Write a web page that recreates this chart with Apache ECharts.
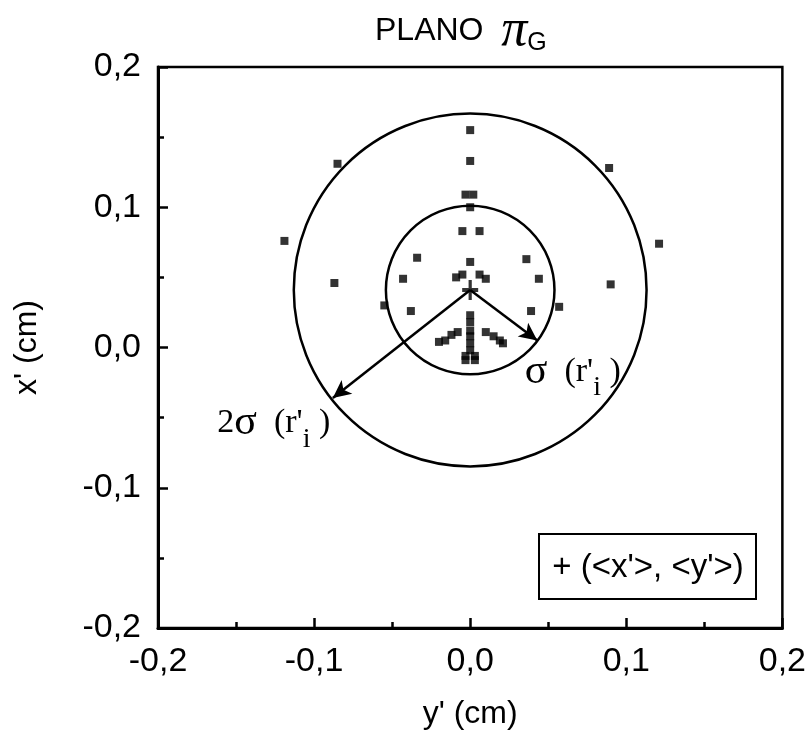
<!DOCTYPE html>
<html>
<head>
<meta charset="utf-8">
<script src="https://cdn.jsdelivr.net/npm/echarts@6/dist/echarts.min.js"></script>
<style>
  html, body { margin: 0; padding: 0; background: #fff; }
  #main { width: 809px; height: 755px; }
</style>
</head>
<body>
<div id="main"></div>
<script>
// y' (cm), x' (cm) of every point
var points = [
    [0.0, 0.155], [0.0, 0.133], [-0.085, 0.131], [0.089, 0.128],
    [-0.003, 0.109], [0.002, 0.109], [0.0, 0.100],
    [-0.005, 0.083], [0.006, 0.083],
    [-0.119, 0.076], [0.121, 0.074],
    [-0.034, 0.064], [0.036, 0.063], [0.0, 0.061],
    [-0.087, 0.046], [-0.043, 0.049], [0.044, 0.049], [0.090, 0.045],
    [-0.009, 0.050], [-0.005, 0.052], [0.006, 0.052], [0.010, 0.049],
    [-0.055, 0.030], [-0.038, 0.026], [0.039, 0.026], [0.057, 0.029],
    [0.0, 0.023], [0.0, 0.018], [0.0, 0.012], [0.0, 0.008], [0.0, 0.003], [0.0, -0.002],
    [-0.003, -0.006], [0.003, -0.006], [-0.003, -0.009], [0.003, -0.009],
    [-0.008, 0.011], [-0.012, 0.009], [-0.016, 0.005], [-0.020, 0.004],
    [0.010, 0.011], [0.015, 0.008], [0.019, 0.005], [0.021, 0.003]
]

// mean (<y'>, <x'>) and the sigma circles around it
var mean = [0.0, 0.041]
var radii = [0.054, 0.113]   // sigma, 2 sigma (cm)
var arrowEnds = [[0.043, 0.005], [-0.088, -0.036]]

var ticks = [-0.2, -0.1, 0.0, 0.1, 0.2]

function fmt(v) {
    return v.toFixed(1).replace('.', ',')
}

var chart = echarts.init(document.getElementById('main'))

var sans = 'Liberation Sans'
var serif = 'Liberation Serif'

function axisCommon(name) {
    return {
        type: 'value',
        min: ticks[0],
        max: ticks[ticks.length - 1],
        interval: 0.1,
        name: name,
        nameLocation: 'middle',
        nameTextStyle: { fontFamily: sans, fontSize: 32, color: '#000' },
        axisLine: { show: true, onZero: false, lineStyle: { color: '#000', width: 3 } },
        axisTick: { show: true, inside: true, length: 10, lineStyle: { color: '#000', width: 2.5 } },
        minorTick: { show: true, splitNumber: 2, length: 6, lineStyle: { color: '#000', width: 2.5 } },
        splitLine: { show: false },
        minorSplitLine: { show: false },
        axisLabel: { fontFamily: sans, fontSize: 34, color: '#000', formatter: fmt }
    }
}

var xAxis = axisCommon("y' (cm)")
xAxis.nameGap = 70
xAxis.axisLabel.margin = 17

var yAxis = axisCommon("x' (cm)")
yAxis.nameGap = 115
yAxis.axisLabel.margin = 17

// subscript token gets top padding so it sits lower on the line
var subRich = {
    g: { fontFamily: serif, fontSize: 42, lineHeight: 42, color: '#000' },
    a: { fontFamily: serif, fontSize: 34, lineHeight: 42, color: '#000' },
    s: { fontFamily: serif, fontSize: 28, padding: [32, 0, 0, 0], color: '#000' }
}

chart.setOption({
    animation: false,
    backgroundColor: '#fff',
    title: {
        text: '{a|PLANO  }{p|π}{g|G}',
        left: 370,
        top: 2,
        textStyle: {
            fontWeight: 'normal',
            rich: {
                a: { fontFamily: sans, fontSize: 32, fontWeight: 'normal', color: '#000', lineHeight: 44 },
                p: { fontFamily: serif, fontSize: 52, fontStyle: 'italic', fontWeight: 'normal', color: '#000', lineHeight: 44 },
                g: { fontFamily: sans, fontSize: 25, fontWeight: 'normal', color: '#000', padding: [24, 0, 0, 0] }
            }
        }
    },
    grid: {
        left: 158, right: 26, top: 67, bottom: 127,
        show: true, borderColor: '#000', borderWidth: 2.5, backgroundColor: 'transparent'
    },
    xAxis: xAxis,
    yAxis: yAxis,
    graphic: [{
        type: 'group',
        left: 538,
        top: 533,
        children: [{
            type: 'rect',
            shape: { x: 0, y: 0, width: 217, height: 65 },
            style: { fill: '#fff', stroke: '#000', lineWidth: 2 }
        }, {
            type: 'text',
            x: 109, y: 34,
            style: {
                text: "+ (<x'>, <y'>)",
                font: '33px "Liberation Sans"',
                fill: '#000',
                align: 'center',
                verticalAlign: 'middle'
            }
        }]
    }],
    series: [{
        name: 'circles',
        type: 'custom',
        silent: true,
        data: radii.map(function(r) { return [mean[0], mean[1], r] }),
        renderItem: function(params, api) {
            var c = api.coord([api.value(0), api.value(1)])
            var r = api.size([api.value(2), 0])[0]
            return {
                type: 'circle',
                shape: { cx: c[0], cy: c[1], r: r },
                style: { fill: 'none', stroke: '#000', lineWidth: 2.5 }
            }
        }
    }, {
        name: 'points',
        type: 'scatter',
        symbol: 'rect',
        symbolSize: 8,
        itemStyle: { color: '#000' },
        data: points,
        z: 3
    }, {
        name: 'mean',
        type: 'scatter',
        symbol: 'path://M4,0 H6 V4 H10 V6 H6 V10 H4 V6 H0 V4 H4 Z',
        symbolSize: [16, 20],
        itemStyle: { color: '#000' },
        data: [mean],
        markLine: {
            silent: true,
            symbol: ['none', 'arrow'],
            symbolSize: [13, 18],
            label: { show: false },
            lineStyle: { color: '#000', width: 2.5, type: 'solid' },
            data: arrowEnds.map(function(p) {
                return [{ coord: mean }, { coord: p }]
            })
        },
        markPoint: {
            symbol: 'circle',
            symbolSize: 0,
            data: [{
                coord: [0.035, -0.0175],
                label: { formatter: "{g|σ}{a|  (r'}{s|i}{a| )}" }
            }, {
                coord: [-0.162, -0.054],
                label: { formatter: "{a|2}{g|σ}{a|  (r'}{s|i}{a| )}" }
            }],
            label: { show: true, position: 'right', distance: 0, rich: subRich }
        }
    }]
})
</script>
</body>
</html>
